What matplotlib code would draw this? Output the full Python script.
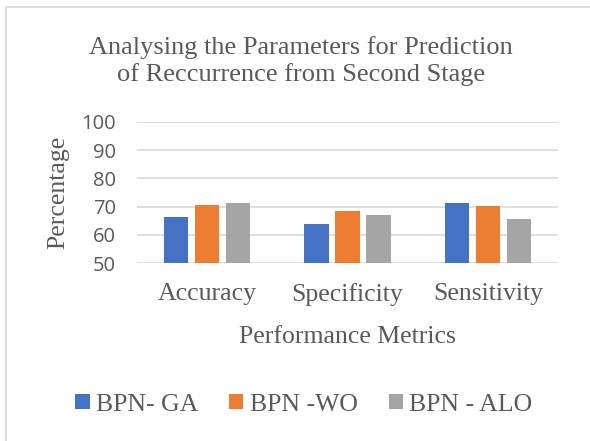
import matplotlib
matplotlib.use("Agg")
import matplotlib.pyplot as plt
import numpy as np
from matplotlib.patches import Rectangle

categories = ["Accuracy", "Specificity", "Sensitivity"]
series_names = ["BPN- GA", "BPN -WO", "BPN - ALO"]
bpn_ga = [66.5, 63.9, 71.4]
bpn_wo = [70.7, 68.6, 70.2]
bpn_alo = [71.4, 66.9, 65.5]
yticks = [50, 60, 70, 80, 90, 100]

colors = ["#4472C4", "#ED7D31", "#A5A5A5"]
txt = "#595959"
serif = ["Liberation Serif", "DejaVu Serif"]
sans = ["Open Sans", "DejaVu Sans"]
fs = 18.5

fig = plt.figure(figsize=(5.9, 4.41), dpi=100)
ax = fig.add_axes([0.232, 0.403, 0.714, 0.321])

x = np.arange(len(categories))
w = 0.175
step = 0.22
for i, (vals, name) in enumerate(zip([bpn_ga, bpn_wo, bpn_alo], series_names)):
    ax.bar(x + (i - 1) * step, np.array(vals) - 50, width=w, bottom=50,
           color=colors[i], label=name, zorder=3)

ax.set_xlim(-0.5, 2.5)
ax.set_ylim(50, 100)
ax.set_yticks(yticks)
ax.set_yticklabels([str(t) for t in yticks], fontfamily=sans, fontsize=14.5, color=txt)
ax.set_xticks(x)
ax.set_xticklabels(categories, fontfamily=serif, fontsize=fs, color=txt)
ax.tick_params(axis="y", length=0, pad=15)
ax.tick_params(axis="x", length=0, pad=14)
ax.grid(axis="y", color="#D9D9D9", linewidth=1.2, zorder=0)
for s in ax.spines.values():
    s.set_visible(False)

ax.set_xlabel("Performance Metrics", fontfamily=serif, fontsize=fs, color=txt, va="baseline")
ax.xaxis.set_label_coords(0.5, -(343 - 263.3) / 141.6)
ax.set_ylabel("Percentage", fontfamily=serif, fontsize=fs, color=txt, va="center")
ax.yaxis.set_label_coords(-(137 - 58) / 421.0, 0.5)

fig.text(0.51, 0.862, "Analysing the Parameters for Prediction\nof Reccurrence from Second Stage",
         ha="center", va="center", fontfamily=serif, fontsize=19, color=txt, linespacing=1.25)

leg = fig.legend(loc="center", bbox_to_anchor=(0.515, 0.082), ncol=3, frameon=False,
                 prop={"family": serif, "size": fs}, handlelength=0.55, handleheight=0.55,
                 handletextpad=0.25, columnspacing=1.2, borderaxespad=0)
for t in leg.get_texts():
    t.set_color(txt)

fig.patches.append(Rectangle((6 / 590, -0.1), 1.2, 1 - 7 / 441 + 0.1, transform=fig.transFigure,
                             fill=False, edgecolor="#D9D9D9", linewidth=1.2, figure=fig))

fig.savefig("out.png", dpi=100)
